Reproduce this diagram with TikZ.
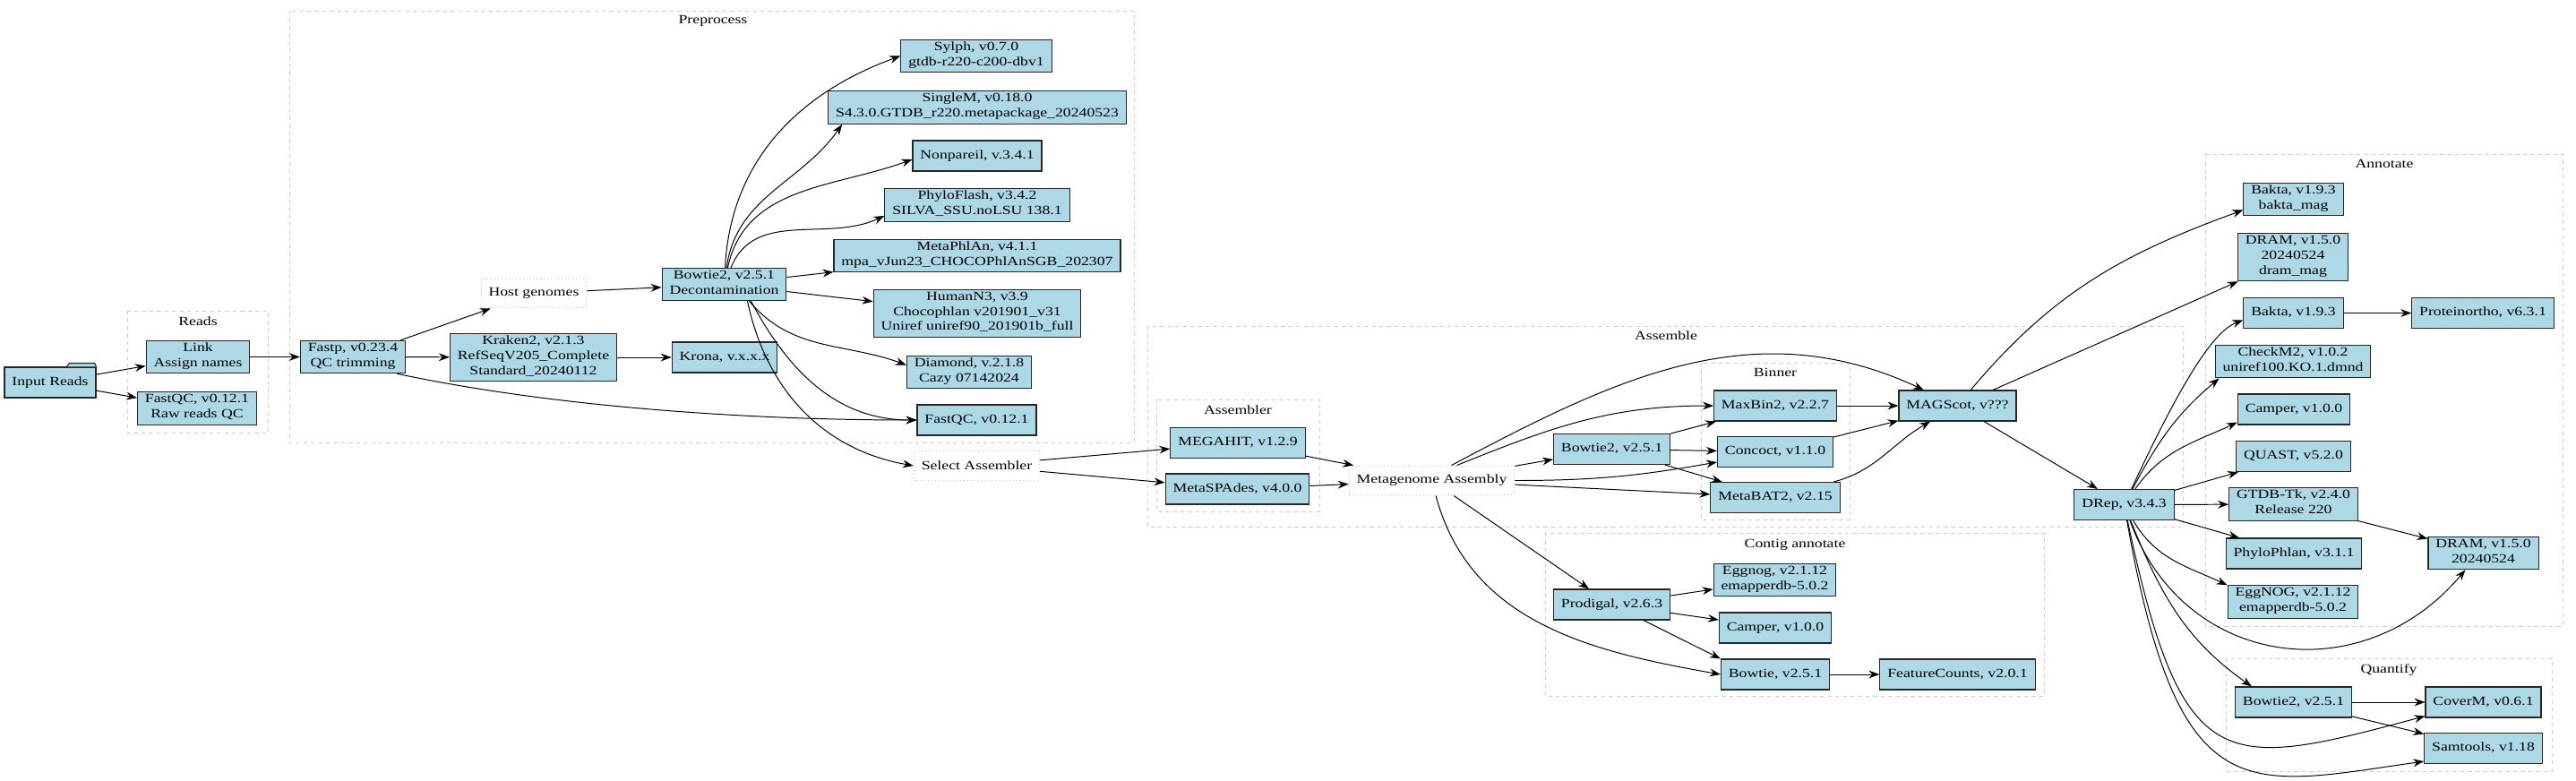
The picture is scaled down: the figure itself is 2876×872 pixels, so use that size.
\documentclass[tikz,border=0pt]{standalone}
\usepackage{fontspec}
\setmainfont{Liberation Serif}[FakeStretch=1.26]
\usetikzlibrary{arrows.meta,calc}
\definecolor{boxblue}{HTML}{ADD8E6}
\definecolor{clustergrey}{HTML}{CCCCCC}
\tikzset{tool node/.style={rectangle,fill=boxblue,draw=black!85,line width=0.8pt,align=center,minimum height=8.5mm,inner xsep=2.1mm,inner ysep=1.8pt,execute at begin node=\strut,execute at end node=\strut},
         data node/.style={rectangle,draw=clustergrey,dotted,line width=0.8pt,align=center,minimum height=8.2mm,inner xsep=2.1mm},
         cluster/.style={draw=clustergrey,dashed,line width=0.6pt},
         cluster label/.style={inner sep=0pt},
         flow/.style={draw,line width=0.7pt,-{Stealth[length=3mm,width=2.2mm,inset=1mm]}},
            }

\begin{document}
\begin{tikzpicture}[x=0.25mm,y=-0.25mm]
    \useasboundingbox (0,0) rectangle (2876,872);

    % clusters
    \draw[cluster] (142,347) rectangle (299,483);
    \node[cluster label] (readslabel) at (221,359) {Reads};
    \draw[cluster] (323,12) rectangle (1266,494);
    \node[cluster label] (prelabel) at (796,23) {Preprocess};
    \draw[cluster] (1281,364) rectangle (2437,588);
    \node[cluster label] (asmlabel) at (1860,375) {Assemble};
    \draw[cluster] (1291,446) rectangle (1473,571);
    \node[cluster label] (assemblerlabel) at (1382,458) {Assembler};
    \draw[cluster] (1899,405) rectangle (2065,580);
    \node[cluster label] (binnerlabel) at (1982,416) {Binner};
    \draw[cluster] (1725,595) rectangle (2282,777);
    \node[cluster label] (contiglabel) at (2004,608) {Contig annotate};
    \draw[cluster] (2462,172) rectangle (2861,699);
    \node[cluster label] (annlabel) at (2662,183) {Annotate};
    \draw[cluster] (2485,735) rectangle (2849,861);
    \node[cluster label] (quantlabel) at (2667,748) {Quantify};

    % reads
    \node[tool node] (input) at (56,427) {Input Reads};
    \draw[fill=boxblue,draw=black!85,line width=0.8pt] ($(input.north east)+(-33,0)$) -- ++(3,-4) -- ++(28,0) -- ++(2,4);
    \node[tool node] (link) at (221,398.5) {Link\\Assign names};
    \node[tool node] (rawqc) at (220,456) {FastQC, v0.12.1\\Raw reads QC};

    % preprocess
    \node[tool node] (fastp) at (394,398.5) {Fastp, v0.23.4\\QC trimming};
    \node[data node] (host) at (596,327.5) {Host genomes};
    \node[tool node] (kraken) at (595.5,399) {Kraken2, v2.1.3\\RefSeqV205\_Complete\\Standard\_20240112};
    \node[tool node] (krona) at (809,399) {Krona, v.x.x.x};
    \node[tool node] (decon) at (808.5,317.5) {Bowtie2, v2.5.1\\Decontamination};
    \node[tool node] (sylph) at (1090,62.5) {Sylph, v0.7.0\\gtdb-r220-c200-dbv1};
    \node[tool node] (singlem) at (1091,120) {SingleM, v0.18.0\\S4.3.0.GTDB\_r220.metapackage\_20240523};
    \node[tool node] (nonpareil) at (1091,174) {Nonpareil, v.3.4.1};
    \node[tool node] (phyloflash) at (1091,229) {PhyloFlash, v3.4.2\\SILVA\_SSU.noLSU 138.1};
    \node[tool node] (metaphlan) at (1091,285.5) {MetaPhlAn, v4.1.1\\mpa\_vJun23\_CHOCOPhlAnSGB\_202307};
    \node[tool node] (humann) at (1091,350) {HumanN3, v3.9\\Chocophlan v201901\_v31\\Uniref uniref90\_201901b\_full};
    \node[tool node] (diamond) at (1082,415.5) {Diamond, v.2.1.8\\Cazy 07142024};
    \node[tool node] (fastqc) at (1090.5,469) {FastQC, v0.12.1};
    \node[data node] (select) at (1090.5,520) {Select Assembler};

    % assemble
    \node[tool node] (megahit) at (1382,494.5) {MEGAHIT, v1.2.9};
    \node[tool node] (metaspades) at (1381.5,546) {MetaSPAdes, v4.0.0};
    \node[data node] (metaasm) at (1598.5,536.5) {Metagenome Assembly};
    \node[tool node] (bowbin) at (1799.5,501.5) {Bowtie2, v2.5.1};
    \node[tool node] (maxbin) at (1982,453) {MaxBin2, v2.2.7};
    \node[tool node] (concoct) at (1982,504.5) {Concoct, v1.1.0};
    \node[tool node] (metabat) at (1982,555.5) {MetaBAT2, v2.15};
    \node[tool node] (magscot) at (2185.5,453) {MAGScot, v???};
    \node[tool node] (drep) at (2371.5,563.5) {DRep, v3.4.3};

    % contig annotate
    \node[tool node] (prodigal) at (1799.5,675) {Prodigal, v2.6.3};
    \node[tool node] (eggnog) at (1981.5,647.5) {Eggnog, v2.1.12\\emapperdb-5.0.2};
    \node[tool node] (campercontig) at (1982,701) {Camper, v1.0.0};
    \node[tool node] (bowtie) at (1982,753) {Bowtie, v2.5.1};
    \node[tool node] (featurecounts) at (2185.5,753) {FeatureCounts, v2.0.1};

    % annotate
    \node[tool node] (baktamag) at (2560.5,222.5) {Bakta, v1.9.3\\bakta\_mag};
    \node[tool node] (drammag) at (2560,287) {DRAM, v1.5.0\\20240524\\dram\_mag};
    \node[tool node] (bakta) at (2560.5,349.5) {Bakta, v1.9.3};
    \node[tool node] (proteinortho) at (2772,349.5) {Proteinortho, v6.3.1};
    \node[tool node] (checkm) at (2560,403.5) {CheckM2, v1.0.2\\uniref100.KO.1.dmnd};
    \node[tool node] (camperann) at (2561,457) {Camper, v1.0.0};
    \node[tool node] (quast) at (2560.5,509.5) {QUAST, v5.2.0};
    \node[tool node] (gtdbtk) at (2560.5,563) {GTDB-Tk, v2.4.0\\Release 220};
    \node[tool node] (phylophlan) at (2561,618) {PhyloPhlan, v3.1.1};
    \node[tool node] (eggnogann) at (2560,672) {EggNOG, v2.1.12\\emapperdb-5.0.2};
    \node[tool node] (dramann) at (2772.5,617.5) {DRAM, v1.5.0\\20240524};

    % quantify
    \node[tool node] (bowquant) at (2560.5,784) {Bowtie2, v2.5.1};
    \node[tool node] (coverm) at (2772.5,784) {CoverM, v0.6.1};
    \node[tool node] (samtools) at (2772.5,835.5) {Samtools, v1.18};

    % edge ports
    \coordinate (fastpout) at ($(fastp.south east)+(-10,0)$);
    \coordinate (deconout1) at ($(decon.south)+(26,0)$);
    \coordinate (deconout2) at ($(decon.south)+(28,0)$);
    \coordinate (deconout3) at ($(decon.south)+(30,0)$);
    \coordinate (asmout1) at ($(metaasm.north)+(22,0)$);
    \coordinate (asmout2) at ($(metaasm.north)+(28,0)$);

    \path[every edge/.style={flow}]
    (input) edge (link)
    (input) edge (rawqc)
    (link) edge (fastp)
    (fastp) edge (host)
    (fastp) edge (kraken)
    (fastpout) edge[out=-12,in=180,looseness=0.8] (fastqc.west)
    (kraken) edge (krona)
    (host) edge (decon)
    (decon) edge[out=87,in=200] (sylph.west)
    (decon) edge[out=82,in=235] ($(singlem.south west)+(16,0)$)
    (decon) edge[out=78,in=200] ($(nonpareil.west)+(0,4)$)
    (decon) edge[out=68,in=205] ($(phyloflash.west)+(0,12)$)
    (decon) edge (metaphlan)
    (decon) edge (humann)
    (deconout2) edge[out=-50,in=160] ($(diamond.west)+(0,-8)$)
    (deconout3) edge[out=-62,in=180] (fastqc.west)
    (deconout1) edge[out=-78,in=170] (select.west)
    (select) edge (megahit)
    (select) edge (metaspades)
    (megahit) edge (metaasm)
    (metaspades) edge (metaasm)
    (asmout1) edge[out=28,in=155] (magscot)
    (asmout2) edge[out=22,in=180] (maxbin.west)
    (metaasm) edge (bowbin)
    (metaasm) edge[out=0,in=190] (concoct)
    (metaasm) edge (metabat)
    (metaasm) edge (prodigal)
    (metaasm) edge[out=-75,in=170] (bowtie.west)
    (bowbin) edge (maxbin)
    (bowbin) edge (concoct)
    (bowbin) edge (metabat)
    (maxbin) edge (magscot)
    (concoct) edge (magscot)
    (metabat) edge[out=15,in=210] (magscot)
    (magscot) edge (drep)
    (magscot) edge[out=50,in=200] ($(baktamag.west)+(0,12)$)
    (magscot) edge (drammag)
    (drep) edge[out=65,in=200,out looseness=1.5,in looseness=0.4] ($(bakta.west)+(0,8)$)
    (drep) edge[out=62,in=220] ($(checkm.south west)+(5,0)$)
    (drep) edge[out=55,in=205] ($(camperann.south west)+(0,-3)$)
    (drep) edge (quast)
    (drep) edge (gtdbtk)
    (drep) edge (phylophlan)
    (drep) edge[out=-60,in=155] (eggnogann.north west)
    (drep) edge[out=-70,in=-130,looseness=1.2] ($(dramann.south)+(-20,0)$)
    (drep) edge[out=-68,in=145] ($(bowquant.north west)+(19,0)$)
    (drep) edge[out=-78,in=195,out looseness=1.9,in looseness=1.5] ($(coverm.south west)+(0,-2)$)
    (drep) edge[out=-80,in=188,out looseness=2,in looseness=1.2] ($(samtools.south west)+(0,-3)$)
    (gtdbtk) edge (dramann)
    (bakta) edge (proteinortho)
    (prodigal) edge (eggnog)
    (prodigal) edge (campercontig)
    (prodigal) edge (bowtie.north west)
    (bowtie) edge (featurecounts)
    (bowquant) edge (coverm)
    (bowquant) edge (samtools);
\end{tikzpicture}
\end{document}
